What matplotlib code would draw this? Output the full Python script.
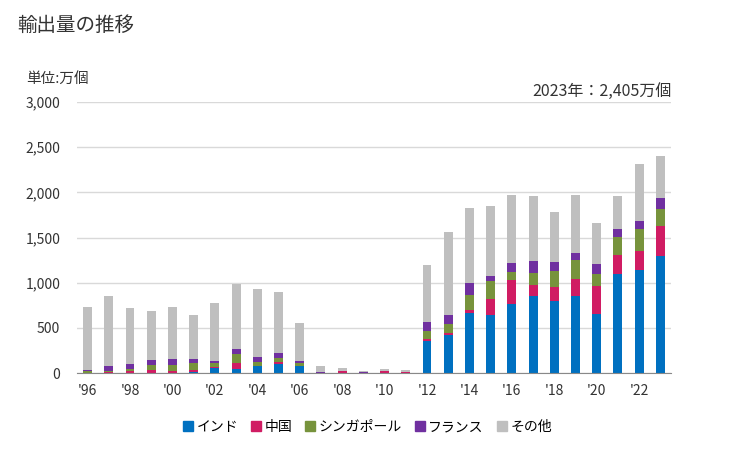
import numpy as np
import matplotlib
matplotlib.use("Agg")
import matplotlib.pyplot as plt

plt.rcParams['font.family'] = ['Noto Sans CJK JP', 'DejaVu Sans']

years = list(range(1996, 2024))
# per-country segments (万個)
india = [0, 0, 0, 0, 0, 15, 59, 48, 81, 104, 81, 0, 0, 0, 0, 0,
         359, 426, 663, 641, 759, 848, 796, 848, 648, 1093, 1137, 1293]
china = [0, 15, 26, 37, 26, 22, 11, 67, 0, 22, 0, 0, 26, 0, 26, 15,
         22, 15, 30, 174, 267, 126, 156, 189, 311, 211, 211, 333]
singapore = [26, 11, 22, 56, 67, 78, 45, 100, 45, 44, 34, 0, 0, 0, 0, 0,
             89, 107, 166, 200, 89, 130, 174, 211, 134, 200, 245, 189]
france = [11, 55, 56, 55, 66, 44, 22, 55, 55, 56, 22, 15, 0, 15, 0, 0,
          100, 89, 134, 55, 100, 133, 100, 78, 111, 89, 89, 122]
other = [689, 767, 611, 533, 567, 478, 633, 711, 745, 667, 422, 66, 33, 11, 22, 22,
         623, 922, 833, 778, 755, 722, 556, 644, 455, 366, 633, 467]

series = [
    ('インド', india, '#0070C0'),
    ('中国', china, '#D01C63'),
    ('シンガポール', singapore, '#77933C'),
    ('フランス', france, '#7030A0'),
    ('その他', other, '#BFBFBF'),
]

fig = plt.figure(figsize=(7.29, 4.5), dpi=100)
ax = fig.add_axes([0.1056, 0.1711, 0.8148, 0.6022])

x = np.arange(len(years))
bottom = np.zeros(len(years))
handles = []
for name, vals, col in series:
    vals = np.array(vals, dtype=float)
    ax.bar(x, vals, width=0.42, bottom=bottom, color=col, zorder=3)
    bottom += vals
    handles.append(plt.Line2D([], [], marker='s', linestyle='', color=col,
                              markersize=7, label=name))

ax.set_xlim(-0.5, len(years) - 0.5)
ax.set_ylim(0, 3000)
ax.set_yticks(np.arange(0, 3001, 500))
ax.set_yticklabels([f'{v:,}' for v in range(0, 3001, 500)])
ax.set_xticks(x[::2])
ax.set_xticklabels([f"'{str(y)[2:]}" for y in years[::2]])
ax.grid(axis='y', color='#D9D9D9', linewidth=1, zorder=0)
for s in ['top', 'right', 'left']:
    ax.spines[s].set_visible(False)
ax.spines['bottom'].set_color('#898989')
ax.spines['bottom'].set_zorder(4)
ax.tick_params(axis='both', length=0, labelsize=10, colors='#333333')
ax.tick_params(axis='y', pad=12)
ax.tick_params(axis='x', pad=8)

fig.text(0.024, 0.944, '輸出量の推移', fontsize=14, va='center', ha='left', color='#333333')
fig.text(0.036, 0.824, '単位:万個', fontsize=10.5, va='center', ha='left', color='#333333')
fig.text(0.922, 0.796, '2023年：2,405万個', fontsize=11.5, va='center', ha='right', color='#333333')

fig.legend(handles=handles, loc='center', bbox_to_anchor=(0.503, 0.051), ncol=5,
           frameon=False, fontsize=10, handletextpad=0.1, columnspacing=0.8,
           handlelength=1.0)

fig.savefig('out.png', dpi=100)
